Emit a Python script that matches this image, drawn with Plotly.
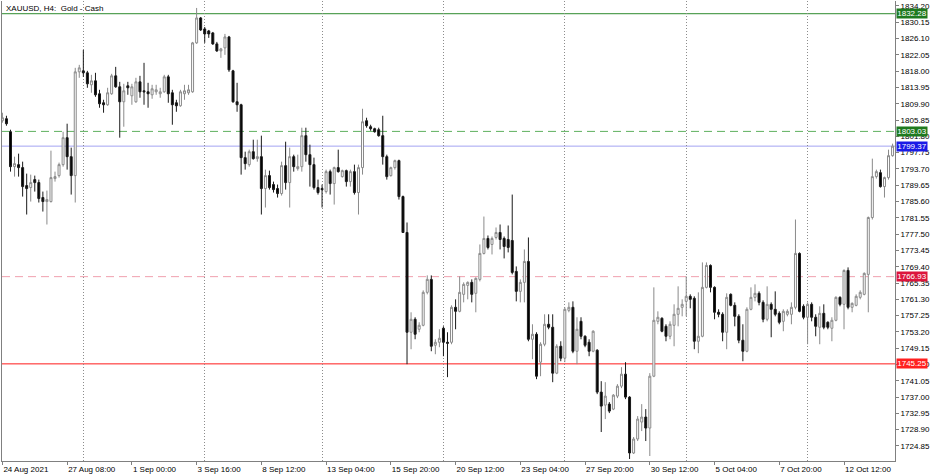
import plotly.graph_objects as go

bars = list(range(221))

opens = [1805.68,1806.18,1802.95,1794.27,1794.77,1794.03,1789.56,1789.07,1791.05,1790.31,
1786.59,1785.59,1785.59,1791.30,1792.04,1794.77,1801.47,1796.75,1792.04,1817.83,
1818.08,1817.59,1814.61,1815.60,1812.38,1810.15,1809.65,1812.38,1816.84,1814.11,
1810.39,1814.36,1811.88,1810.39,1815.35,1813.12,1812.87,1812.13,1812.87,1812.38,
1812.87,1816.59,1812.63,1810.15,1809.40,1812.38,1812.63,1812.87,1825.03,1831.23,
1828.50,1828.00,1827.51,1824.78,1823.04,1823.79,1826.51,1818.08,1810.39,1809.65,
1796.51,1794.77,1797.99,1796.26,1796.75,1788.82,1792.04,1789.81,1788.82,1787.58,
1794.52,1790.31,1796.75,1793.78,1794.27,1801.97,1797.25,1794.77,1789.07,1788.82,
1788.07,1793.03,1790.06,1794.03,1791.79,1793.28,1790.55,1793.03,1787.83,1794.03,
1805.68,1804.19,1803.70,1803.45,1801.97,1796.75,1792.04,1794.03,1795.76,1786.83,
1777.91,1753.11,1756.33,1753.85,1754.84,1763.03,1766.25,1749.88,1750.62,1754.10,
1750.62,1750.62,1759.31,1758.31,1762.53,1764.76,1765.51,1762.78,1766.25,1772.70,
1776.42,1774.93,1776.67,1777.91,1776.42,1776.17,1775.92,1768.24,1763.27,1765.51,
1770.71,1751.37,1752.61,1745.67,1750.13,1755.09,1754.35,1742.94,1749.63,1746.66,
1758.56,1759.31,1748.39,1755.83,1752.11,1750.62,1748.39,1748.64,1738.23,1735.00,
1735.25,1734.01,1737.23,1739.71,1742.69,1736.99,1723.10,1726.57,1730.79,1732.03,
1729.30,1742.19,1755.83,1756.58,1754.59,1752.11,1754.84,1757.57,1759.31,1760.79,
1762.04,1761.54,1750.87,1752.11,1764.27,1769.72,1764.27,1758.07,1757.57,1753.11,
1762.53,1759.80,1757.07,1751.12,1748.39,1758.81,1761.79,1762.78,1760.54,1756.33,
1760.05,1758.81,1757.81,1755.83,1757.57,1757.57,1759.31,1772.70,1759.56,1756.83,
1760.05,1756.83,1754.35,1757.81,1755.59,1754.10,1756.08,1761.79,1760.05,1768.48,
1759.31,1759.80,1761.79,1762.53,1767.49,1781.63,1791.79,1792.78,1789.31,1791.55,
1797.00]

highs = [1807.67,1806.92,1803.45,1796.75,1797.50,1795.51,1792.54,1792.29,1792.04,1791.05,
1788.07,1788.32,1798.24,1793.03,1795.27,1802.95,1804.94,1798.99,1818.83,1819.57,
1823.29,1818.08,1817.09,1817.59,1813.37,1810.89,1813.87,1817.34,1819.07,1815.35,
1814.86,1815.35,1814.86,1816.35,1816.84,1820.07,1815.11,1814.61,1814.61,1813.87,
1817.09,1817.09,1813.37,1810.89,1813.37,1814.61,1814.61,1825.27,1833.71,1831.47,
1828.99,1828.25,1827.75,1825.27,1823.79,1827.26,1826.76,1818.33,1815.11,1809.90,
1797.99,1798.49,1800.97,1800.97,1801.97,1793.53,1793.28,1790.55,1789.81,1795.51,
1800.47,1798.99,1797.25,1797.25,1803.95,1803.95,1799.73,1796.51,1791.05,1789.81,
1793.53,1793.53,1794.27,1798.49,1793.53,1793.53,1793.53,1794.77,1794.77,1808.66,
1806.43,1804.69,1803.95,1803.95,1806.92,1797.25,1794.27,1796.01,1796.01,1787.08,
1780.39,1758.07,1756.83,1755.59,1763.52,1767.24,1767.24,1751.37,1753.85,1754.59,
1753.11,1759.80,1761.29,1766.99,1765.51,1765.75,1766.25,1766.75,1774.93,1781.87,
1777.16,1776.91,1779.15,1779.89,1776.91,1779.64,1787.33,1769.47,1766.25,1773.69,
1776.67,1755.09,1753.11,1750.62,1757.57,1757.57,1757.57,1750.13,1750.87,1759.31,
1760.54,1760.79,1756.83,1756.83,1752.36,1751.37,1753.60,1748.89,1740.95,1740.70,
1735.75,1737.73,1740.21,1744.43,1745.67,1737.23,1727.07,1732.27,1735.25,1734.01,
1742.94,1764.27,1758.31,1756.83,1755.09,1755.83,1760.05,1764.52,1761.29,1766.99,
1762.53,1762.04,1763.03,1770.47,1770.47,1769.97,1764.52,1758.81,1758.07,1762.78,
1762.78,1760.54,1757.57,1755.09,1759.31,1764.27,1765.01,1763.27,1761.04,1764.52,
1760.54,1763.27,1758.31,1758.81,1758.81,1760.54,1781.13,1772.95,1760.05,1760.54,
1760.54,1757.57,1759.56,1760.05,1755.83,1756.83,1762.04,1762.04,1768.73,1769.23,
1760.54,1762.53,1763.52,1767.99,1781.87,1796.26,1793.53,1793.53,1791.79,1798.49,
1799.98]

lows = [1805.19,1804.44,1793.03,1791.79,1791.79,1786.83,1782.37,1785.59,1788.07,1785.35,
1783.11,1779.89,1785.35,1790.55,1791.55,1794.27,1793.53,1787.33,1785.35,1816.35,
1816.59,1813.87,1812.63,1811.63,1808.91,1807.67,1809.40,1812.13,1813.87,1801.47,
1804.19,1812.13,1809.65,1810.15,1811.39,1809.65,1808.91,1811.14,1812.13,1811.39,
1812.63,1810.15,1804.69,1807.91,1809.16,1810.89,1812.13,1812.63,1824.78,1828.00,
1825.03,1826.27,1824.53,1822.79,1821.31,1822.05,1817.83,1810.15,1807.91,1792.29,
1793.53,1794.27,1796.01,1795.51,1782.37,1784.11,1788.57,1787.83,1786.59,1787.08,
1788.57,1784.11,1793.03,1793.28,1793.03,1795.51,1789.31,1788.57,1787.33,1784.11,
1787.58,1787.33,1784.85,1792.78,1791.55,1789.31,1789.31,1787.33,1782.37,1792.29,
1803.95,1803.20,1802.71,1801.71,1794.77,1791.05,1791.79,1793.53,1786.09,1777.91,
1745.17,1748.89,1751.37,1753.11,1754.59,1762.53,1748.39,1747.65,1749.39,1747.15,
1741.95,1750.13,1753.85,1758.07,1760.54,1761.29,1760.54,1758.07,1765.75,1772.45,
1773.69,1772.45,1776.17,1773.69,1771.46,1772.95,1767.49,1760.79,1760.54,1760.54,
1750.87,1746.41,1741.45,1742.19,1749.63,1753.85,1740.70,1742.69,1745.91,1745.67,
1758.07,1747.90,1745.17,1751.37,1749.39,1747.15,1748.14,1737.73,1728.31,1731.53,
1733.02,1733.76,1736.74,1739.22,1736.49,1721.61,1722.85,1726.07,1728.55,1726.07,
1722.35,1741.95,1755.09,1753.11,1750.87,1751.37,1749.63,1754.59,1757.07,1757.07,
1759.06,1748.89,1747.90,1751.87,1764.02,1763.03,1756.33,1756.83,1750.87,1748.89,
1759.56,1754.59,1750.38,1745.91,1748.14,1758.56,1760.79,1759.80,1755.59,1755.83,
1751.87,1757.07,1755.09,1753.36,1757.07,1755.09,1758.81,1758.07,1756.33,1750.13,
1755.83,1752.11,1750.13,1753.85,1753.85,1750.87,1755.83,1759.56,1753.85,1758.81,
1758.07,1759.56,1761.29,1762.29,1758.07,1781.13,1791.30,1789.07,1786.59,1791.05,
1796.75]

closes = [1806.43,1804.94,1794.27,1795.02,1794.03,1789.31,1788.82,1790.31,1790.31,1786.34,
1785.59,1786.09,1791.55,1791.79,1794.77,1801.47,1796.75,1792.04,1817.83,1818.83,
1817.59,1814.86,1815.60,1812.13,1809.90,1809.65,1812.63,1816.84,1814.11,1810.39,
1813.12,1813.87,1814.11,1815.35,1812.87,1812.87,1812.38,1813.62,1813.37,1812.87,
1816.59,1812.38,1809.65,1809.40,1812.87,1813.12,1813.37,1825.03,1831.23,1828.25,
1827.26,1827.26,1824.78,1823.04,1823.54,1826.51,1818.33,1810.39,1809.65,1796.51,
1795.02,1797.99,1796.26,1796.75,1788.82,1792.04,1789.07,1788.57,1787.58,1794.52,
1790.31,1796.75,1794.27,1794.27,1801.97,1797.25,1794.77,1789.07,1787.83,1788.57,
1793.03,1790.06,1794.03,1793.03,1793.28,1790.55,1793.03,1787.83,1794.03,1805.43,
1804.44,1803.70,1802.95,1801.97,1796.75,1791.79,1794.03,1795.76,1786.83,1777.91,
1753.11,1756.33,1752.61,1754.84,1763.03,1766.25,1749.63,1750.62,1751.62,1750.62,
1750.38,1759.31,1758.31,1763.03,1765.01,1765.51,1762.53,1766.50,1772.70,1776.42,
1774.19,1776.42,1777.91,1776.17,1774.43,1774.19,1767.99,1763.27,1765.51,1770.71,
1751.37,1752.61,1742.19,1750.13,1755.09,1754.35,1742.94,1749.63,1746.66,1758.81,
1759.31,1748.39,1753.85,1752.11,1749.88,1748.39,1753.36,1738.23,1734.75,1737.23,
1733.51,1737.48,1739.71,1742.69,1736.99,1723.10,1726.57,1731.53,1732.03,1729.30,
1742.19,1756.08,1756.83,1753.36,1752.11,1755.09,1757.57,1759.06,1760.05,1762.04,
1761.29,1750.87,1752.11,1764.27,1769.72,1764.27,1758.07,1757.57,1753.11,1761.79,
1759.80,1757.07,1751.12,1748.39,1758.81,1761.79,1762.78,1760.54,1756.33,1760.05,
1758.81,1757.57,1755.59,1758.31,1758.31,1759.31,1772.70,1758.31,1756.83,1760.05,
1756.83,1754.59,1757.81,1754.35,1754.35,1756.08,1761.79,1760.05,1768.48,1759.31,
1760.29,1762.04,1763.03,1767.74,1781.63,1791.79,1793.03,1789.31,1791.55,1797.00,
1799.37]

# time-axis labels (every 16 bars) and week separators
label_bars = [0, 16, 32, 48, 64, 80, 96, 112, 128, 144, 160, 176, 192, 208]
label_text = ["24 Aug 2021", "27 Aug 08:00", "1 Sep 00:00", "3 Sep 16:00", "8 Sep 12:00",
              "13 Sep 04:00", "15 Sep 20:00", "20 Sep 12:00", "23 Sep 04:00", "27 Sep 20:00",
              "30 Sep 12:00", "5 Oct 04:00", "7 Oct 20:00", "12 Oct 12:00"]
week_bars = [20, 50, 79, 109, 139, 169, 199]

price_ticks = [1834.20, 1830.15, 1826.10, 1822.05, 1818.00, 1813.95, 1809.90, 1805.85,
               1801.80, 1797.75, 1793.70, 1789.65, 1785.60, 1781.55, 1777.50, 1773.45,
               1769.40, 1765.35, 1761.30, 1757.25, 1753.20, 1749.15, 1745.10, 1741.05,
               1737.00, 1732.95, 1728.90, 1724.85]

# horizontal levels: price, line colour, dash, label colour
level_prices = [1832.28, 1803.03, 1799.37, 1766.93, 1745.25]
level_line_colors = ["#2e8b2e", "#5fb05f", "#a3a3f2", "#f0a0ae", "#ff1a1a"]
level_dashes = ["solid", "8px,5px", "solid", "8px,5px", "solid"]
level_label_colors = ["#1f7a1f", "#1f7a1f", "#1a1ae6", "#dc143c", "#ff2020"]

FONT = "Liberation Sans Narrow, Liberation Sans, Arial, sans-serif"

fig = go.Figure()
fig.add_trace(go.Candlestick(
    x=bars, open=opens, high=highs, low=lows, close=closes,
    increasing=dict(line=dict(color="#8a8a8a", width=1), fillcolor="#ffffff"),
    decreasing=dict(line=dict(color="#1a1a1a", width=1), fillcolor="#000000"),
    whiskerwidth=0, hoverinfo="skip", showlegend=False,
))

shapes = []
for p, lc, d in zip(level_prices, level_line_colors, level_dashes):
    shapes.append(dict(type="line", xref="paper", x0=0, x1=1, yref="y", y0=p, y1=p,
                       line=dict(color=lc, width=1, dash=d), layer="below"))
fig.update_layout(shapes=shapes)

annotations = [dict(xref="paper", yref="paper", x=0.002, y=0.998, xanchor="left", yanchor="top",
                    text="XAUUSD, H4:\u00a0\u00a0Gold - Cash", showarrow=False,
                    font=dict(family=FONT, size=8, color="#000000"))]
for p, bc in zip(level_prices, level_label_colors):
    annotations.append(dict(xref="paper", yref="y", x=1, y=p, xanchor="left", yanchor="middle",
                            xshift=1, text=f"{p:.2f}", showarrow=False, bgcolor=bc, borderpad=0,
                            width=30, height=9, align="center",
                            font=dict(family=FONT, size=8, color="#ffffff")))
fig.update_layout(annotations=annotations)

fig.update_layout(
    width=931, height=475,
    margin=dict(l=1, r=34, t=1, b=13),
    paper_bgcolor="#ffffff", plot_bgcolor="#ffffff",
    font=dict(family=FONT, size=8, color="#000000"),
    showlegend=False,
    xaxis=dict(
        range=[-0.1, 220.6], rangeslider=dict(visible=False),
        tickmode="array", tickvals=label_bars, ticktext=label_text,
        ticks="outside", ticklen=3, tickcolor="#808080",
        ticklabelposition="outside right",
        showgrid=False, zeroline=False,
        showline=True, linecolor="#808080", linewidth=1,
        minor=dict(tickmode="array", tickvals=week_bars, showgrid=True,
                   gridcolor="#8c8c8c", griddash="1px,2px", gridwidth=1, ticks=""),
        fixedrange=True,
    ),
    yaxis=dict(
        side="right", range=[1721.11, 1835.44],
        tickmode="array", tickvals=price_ticks,
        ticktext=[f"{v:.2f}" for v in price_ticks],
        ticks="outside", ticklen=3, tickcolor="#808080",
        showgrid=False, zeroline=False,
        showline=True, linecolor="#808080", linewidth=1, mirror=True,
        fixedrange=True,
    ),
)

fig.write_html("out.html", config={"displayModeBar": False},
               post_script="document.body.style.margin='0';document.body.style.overflow='hidden';")
